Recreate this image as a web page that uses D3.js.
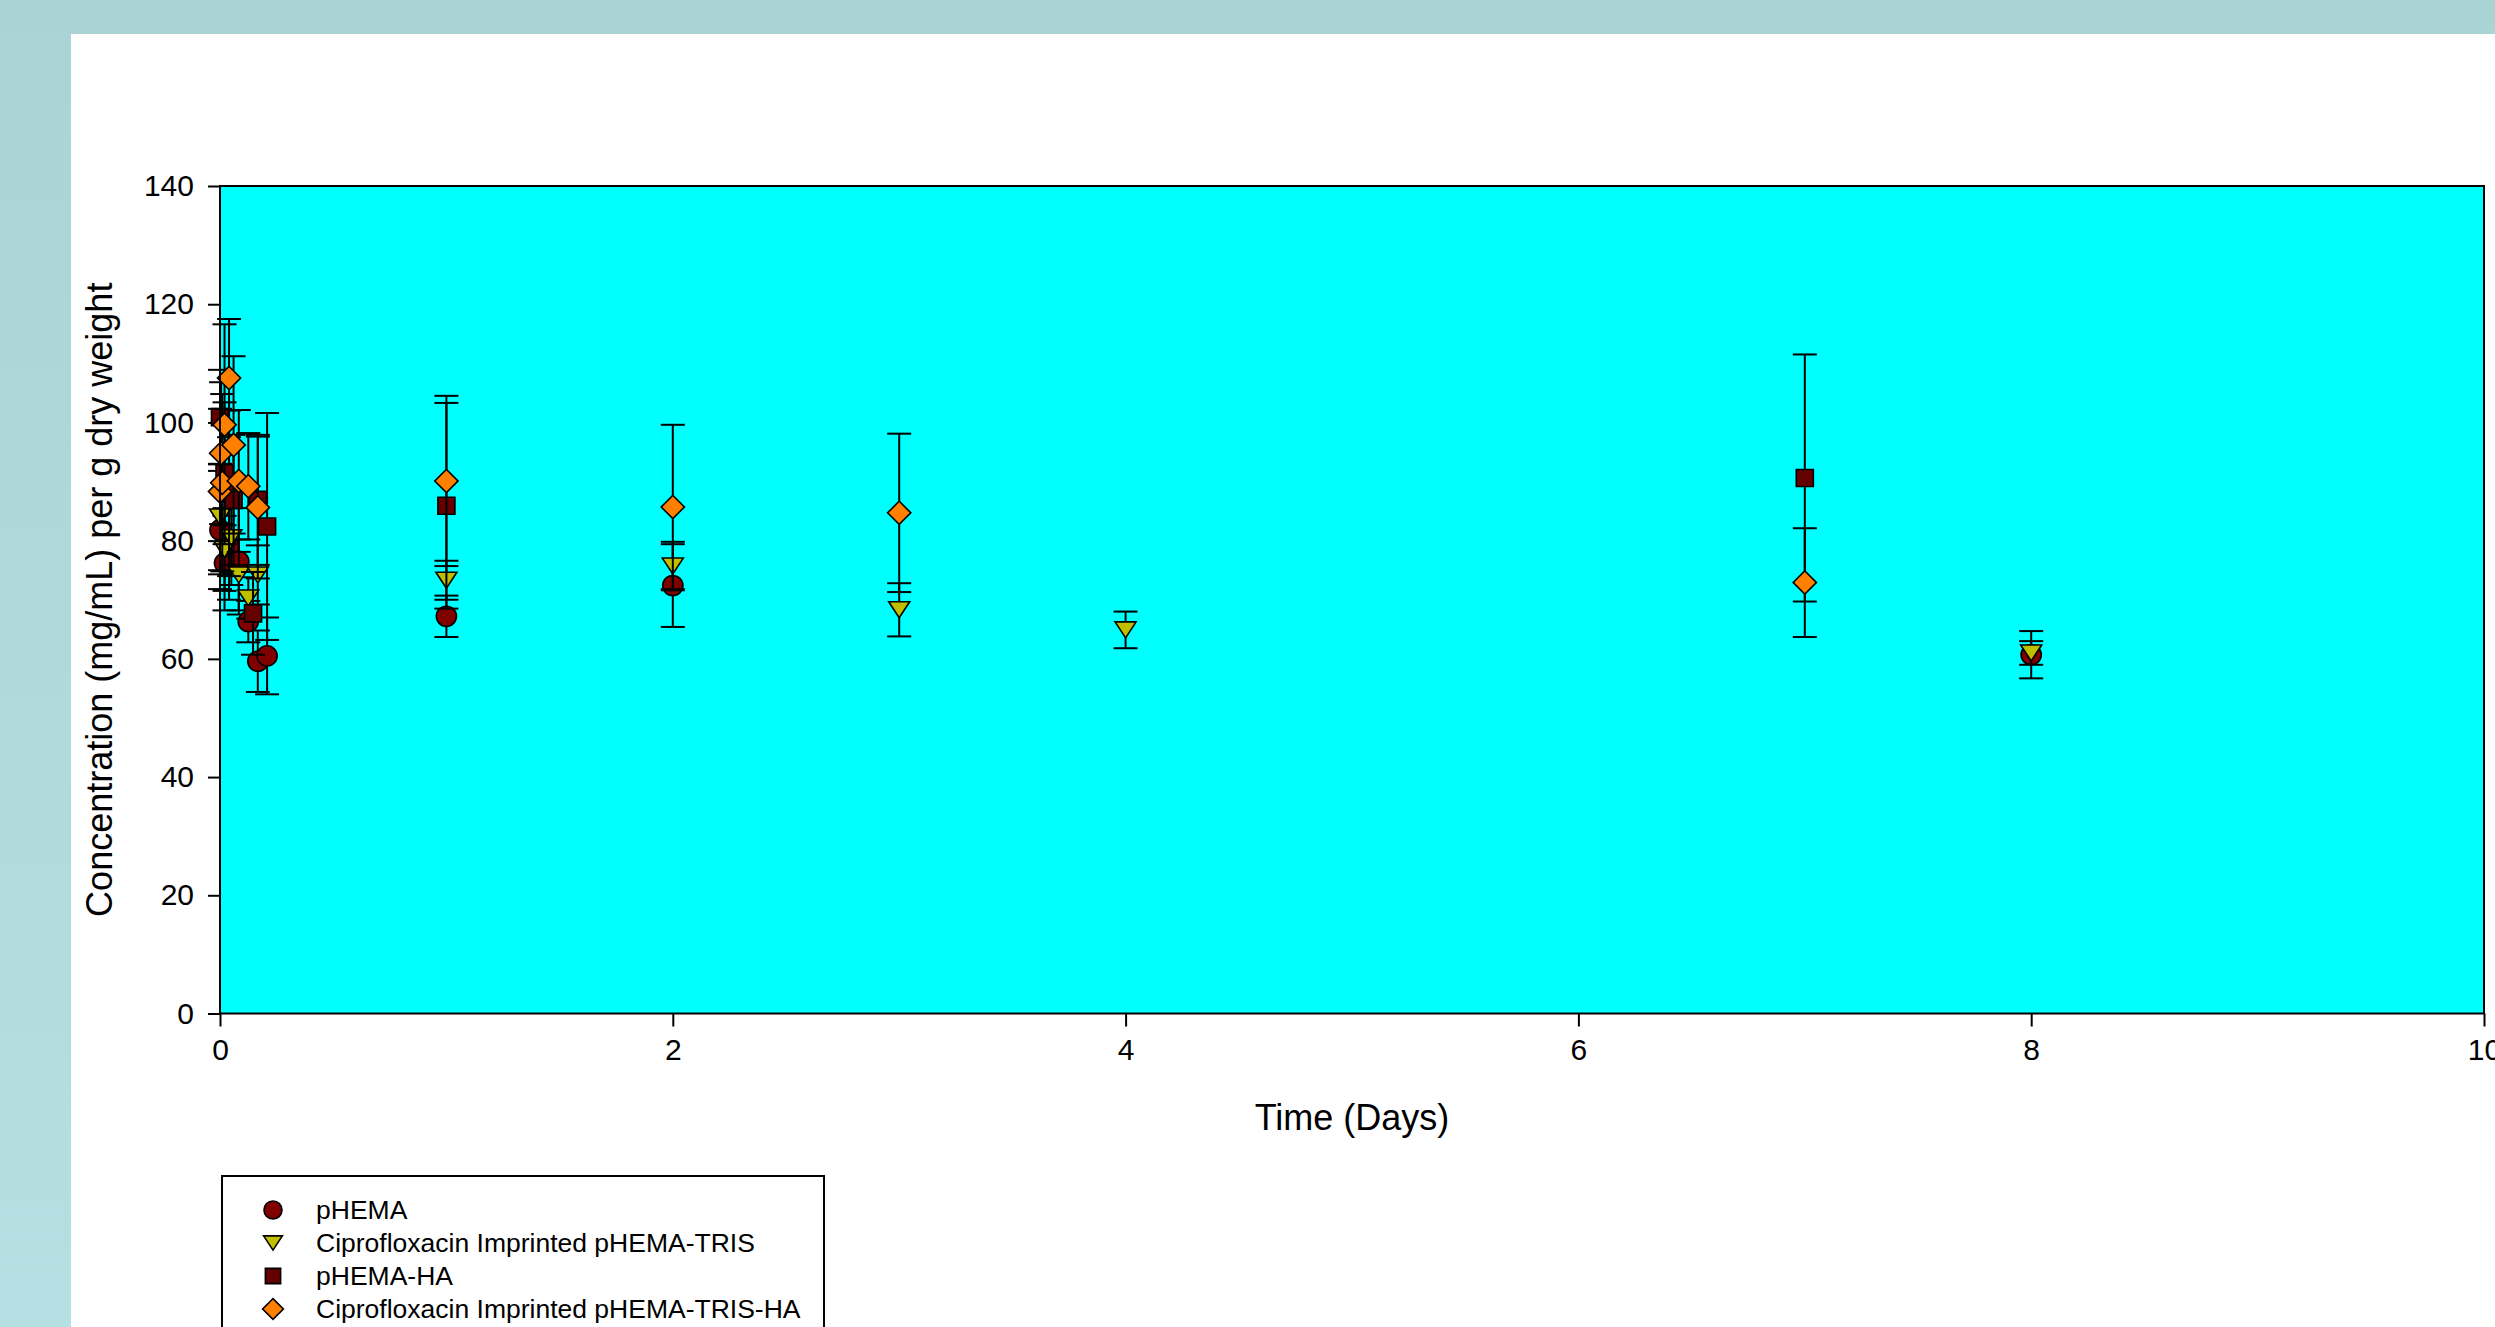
<!DOCTYPE html>
<html>
<head>
<meta charset="utf-8">
<script src="https://cdn.jsdelivr.net/npm/d3@7"></script>
<style>
	body { margin: 0; overflow: hidden; background: #ffffff; }
	svg { display: block; font-family: 'Liberation Sans', Arial, sans-serif; }
</style>
</head>
<body>
<div id="chart"></div>
<script>
// times are in days, the first day is sampled hourly
const seriesNames = ["pHEMA", "Ciprofloxacin Imprinted pHEMA-TRIS", "pHEMA-HA", "Ciprofloxacin Imprinted pHEMA-TRIS-HA"];

const phemaTime = [0, 0.02, 0.04, 0.083, 0.125, 0.167, 0.208, 1, 2, 8];
const phemaConc = [81.8, 76.2, 79.0, 76.5, 66.3, 59.6, 60.5, 67.2, 72.4, 60.7];
const phemaSd   = [10, 8, 9, 9, 3.5, 5.2, 6.5, 3.5, 7.0, 4.0];

const trisTime = [0, 0.02, 0.05, 0.083, 0.125, 0.167, 1, 2, 3, 4, 8];
const trisConc = [84, 78.5, 80.5, 74.2, 70.3, 74.2, 73.3, 75.7, 68.3, 64.9, 61.0];
const trisSd   = [9, 7, 8, 6, 3.5, 5, 3.3, 4.1, 4.5, 3.1, 2.0];

const haTime = [0, 0.02, 0.04, 0.06, 0.146, 0.167, 0.208, 1, 7];
const haConc = [100.9, 91.4, 88.0, 86.9, 67.7, 86.9, 82.4, 85.9, 90.6];
const haSd   = [8, 12, 14, 11, 7, 11, 19.2, 17.4, 20.9];

const trisHaTime = [0, 0.005, 0.01, 0.02, 0.04, 0.06, 0.083, 0.125, 0.167, 1, 2, 3, 7];
const trisHaConc = [88.3, 94.8, 89.8, 99.6, 107.5, 96.2, 90.1, 89.2, 85.6, 90.1, 85.7, 84.7, 72.9];
const trisHaSd   = [14, 12, 15, 17, 10, 15, 12, 9, 12, 14.4, 13.9, 13.4, 9.2];

const xTicks = [0, 2, 4, 6, 8, 10];
const yTicks = [0, 20, 40, 60, 80, 100, 120, 140];

const width = 2495, height = 1327;
const plot = { left: 220, right: 2484, top: 186, bottom: 1013.5 };

// inverted triangle, a bit flatter than d3's own
const triangleDown = {
	draw(context, size) {
		let w = Math.sqrt(size * 2.6);
		let h = w * 0.76;
		context.moveTo(-w / 2, -h / 2);
		context.lineTo(w / 2, -h / 2);
		context.lineTo(0, h / 2);
		context.closePath();
	}
};

const series = [
	{ name: seriesNames[0], t: phemaTime, y: phemaConc, sd: phemaSd, fill: "#800000", type: d3.symbolCircle, size: 320, rotate: 0 },
	{ name: seriesNames[1], t: trisTime, y: trisConc, sd: trisSd, fill: "#bfbf00", type: triangleDown, size: 170, rotate: 0 },
	{ name: seriesNames[2], t: haTime, y: haConc, sd: haSd, fill: "#640000", type: d3.symbolSquare, size: 290, rotate: 0 },
	{ name: seriesNames[3], t: trisHaTime, y: trisHaConc, sd: trisHaSd, fill: "#ff8000", type: d3.symbolSquare, size: 270, rotate: 45 }
];

const svg = d3.select("#chart").append("svg")
	.attr("width", width)
	.attr("height", height);

let grad = svg.append("defs").append("linearGradient")
	.attr("id", "frame")
	.attr("x1", 0).attr("y1", 0).attr("x2", 0).attr("y2", 1);
grad.append("stop").attr("offset", "0%").attr("stop-color", "#aad3d6");
grad.append("stop").attr("offset", "100%").attr("stop-color", "#b6dfe3");

svg.append("rect")
	.attr("width", width)
	.attr("height", height)
	.attr("fill", "url(#frame)");

svg.append("rect")
	.attr("x", 71)
	.attr("y", 34)
	.attr("width", width - 71)
	.attr("height", height - 34)
	.attr("fill", "#ffffff");

let x = d3.scaleLinear().domain([0, 10]).range([plot.left, plot.right]);
let y = d3.scaleLinear().domain([0, 140]).range([plot.bottom, plot.top]);

svg.append("rect")
	.attr("x", plot.left)
	.attr("y", plot.top)
	.attr("width", plot.right - plot.left)
	.attr("height", plot.bottom - plot.top)
	.attr("fill", "#00ffff");

// axes
let xAxis = svg.append("g")
	.attr("transform", `translate(0, ${plot.bottom})`)
	.call(d3.axisBottom(x).tickValues(xTicks).tickFormat(d3.format("d")).tickSize(13).tickPadding(12));

let yAxis = svg.append("g")
	.attr("transform", `translate(${plot.left}, 0)`)
	.call(d3.axisLeft(y).tickValues(yTicks).tickFormat(d3.format("d")).tickSize(12).tickPadding(14));

[xAxis, yAxis].forEach(a => {
	a.select(".domain").remove();
	a.selectAll("line").attr("stroke", "#000").attr("stroke-width", 2);
	a.selectAll("text")
		.attr("fill", "#000")
		.style("font-size", "30px")
		.style("font-family", "'Liberation Sans', Arial, sans-serif");
});

svg.append("text")
	.attr("x", (plot.left + plot.right) / 2)
	.attr("y", 1130)
	.attr("text-anchor", "middle")
	.style("font-size", "36px")
	.text("Time (Days)");

svg.append("text")
	.attr("transform", `translate(112, ${(plot.top + plot.bottom) / 2}) rotate(-90)`)
	.attr("text-anchor", "middle")
	.style("font-size", "36px")
	.text("Concentration (mg/mL) per g dry weight");

// one group per series, error bars under the markers
let capW = 12;

series.forEach(s => {
	let rows = s.t.map((t, i) => ({ t: t, y: s.y[i], sd: s.sd[i] }));
	let g = svg.append("g").attr("class", "series");

	let bars = g.selectAll("g.err")
		.data(rows)
		.join("g")
		.attr("class", "err")
		.attr("stroke", "#000")
		.attr("stroke-width", 2);

	bars.append("line")
		.attr("x1", d => x(d.t)).attr("x2", d => x(d.t))
		.attr("y1", d => y(d.y + d.sd)).attr("y2", d => y(d.y - d.sd));
	bars.append("line")
		.attr("x1", d => x(d.t) - capW).attr("x2", d => x(d.t) + capW)
		.attr("y1", d => y(d.y + d.sd)).attr("y2", d => y(d.y + d.sd));
	bars.append("line")
		.attr("x1", d => x(d.t) - capW).attr("x2", d => x(d.t) + capW)
		.attr("y1", d => y(d.y - d.sd)).attr("y2", d => y(d.y - d.sd));

	g.selectAll("path.mark")
		.data(rows)
		.join("path")
		.attr("class", "mark")
		.attr("d", d3.symbol().type(s.type).size(s.size))
		.attr("transform", d => `translate(${x(d.t)}, ${y(d.y)}) rotate(${s.rotate})`)
		.attr("fill", s.fill)
		.attr("stroke", "#000")
		.attr("stroke-width", 1.6);
});

// frame of the plot on top
svg.append("rect")
	.attr("x", plot.left)
	.attr("y", plot.top)
	.attr("width", plot.right - plot.left)
	.attr("height", plot.bottom - plot.top)
	.attr("fill", "none")
	.attr("stroke", "#000")
	.attr("stroke-width", 2);

// legend
let legend = svg.append("g").attr("class", "legend");

legend.append("rect")
	.attr("x", 222)
	.attr("y", 1176)
	.attr("width", 602)
	.attr("height", 200)
	.attr("fill", "#ffffff")
	.attr("stroke", "#000")
	.attr("stroke-width", 2);

let rowY = d3.scalePoint().domain(seriesNames).range([1210, 1309]);

let items = legend.selectAll("g.item")
	.data(series)
	.join("g")
	.attr("class", "item")
	.attr("transform", d => `translate(0, ${rowY(d.name)})`);

items.append("path")
	.attr("d", d => d3.symbol().type(d.type).size(d.size * 0.8)())
	.attr("transform", d => `translate(273, 0) rotate(${d.rotate})`)
	.attr("fill", d => d.fill)
	.attr("stroke", "#000")
	.attr("stroke-width", 1.6);

items.append("text")
	.attr("x", 316)
	.attr("dy", "0.35em")
	.style("font-size", "26.5px")
	.text(d => d.name);
</script>
</body>
</html>
